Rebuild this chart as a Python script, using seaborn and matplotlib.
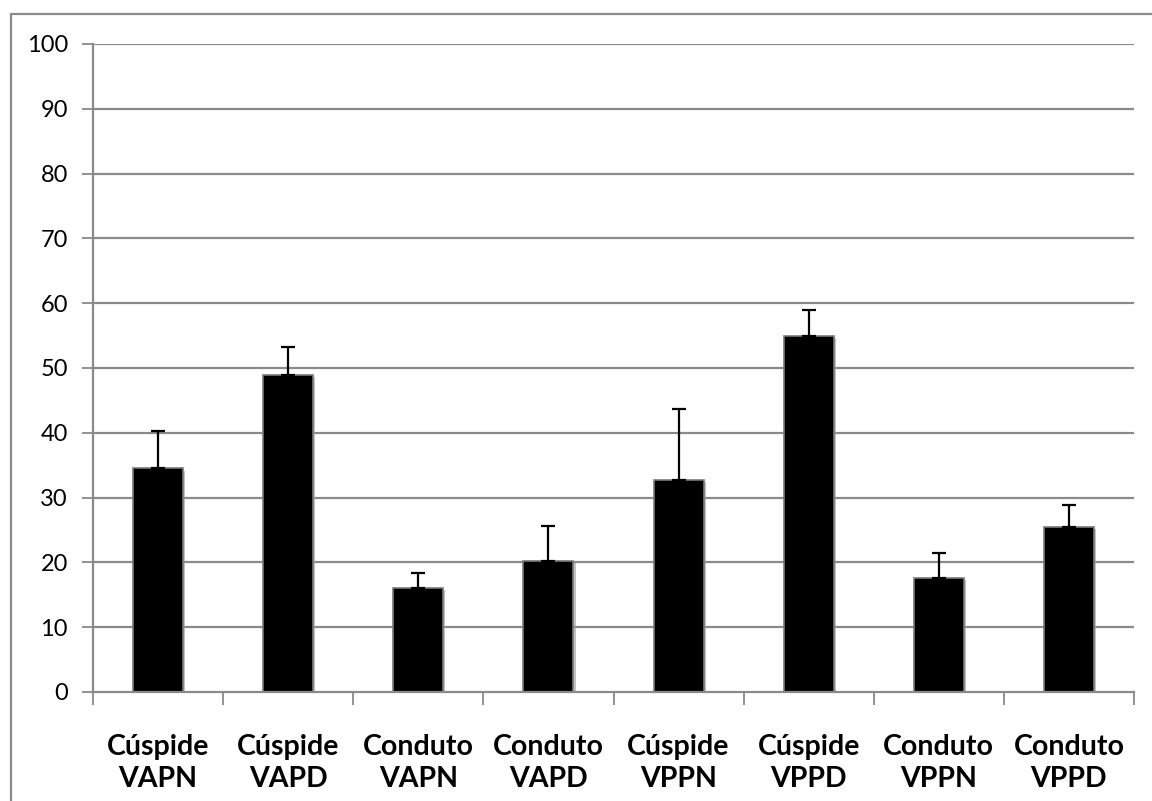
import matplotlib
matplotlib.use("Agg")
import matplotlib.pyplot as plt
import matplotlib.patheffects as pe
from matplotlib.patches import Rectangle
import numpy as np
import pandas as pd
import seaborn as sns

categories = ["Cúspide\nVAPN", "Cúspide\nVAPD", "Conduto\nVAPN", "Conduto\nVAPD",
              "Cúspide\nVPPN", "Cúspide\nVPPD", "Conduto\nVPPN", "Conduto\nVPPD"]
means = [34.5, 48.9, 16.0, 20.2, 32.7, 54.9, 17.6, 25.4]
errors = [5.8, 4.4, 2.3, 5.4, 10.9, 4.0, 3.8, 3.5]
yticks = [0, 10, 20, 30, 40, 50, 60, 70, 80, 90, 100]

sns.set_theme(style="white")
plt.rcParams['font.family'] = ['Lato', 'DejaVu Sans']

df = pd.DataFrame({"cat": categories, "val": means})

fig = plt.figure(figsize=(11.52, 8.01), dpi=100)
ax = fig.add_axes([93/1152, 1-692/801, (1134-93)/1152, (692-44)/801])

grid_c = "#8a8a8a"
for t in yticks[1:]:
    ax.axhline(t, color=grid_c, lw=1.6, zorder=0)

sns.barplot(data=df, x="cat", y="val", color="black", width=0.385,
            errorbar=None, ax=ax, zorder=2, edgecolor="#7a7a7a", linewidth=1.2,
            saturation=1)
for p in ax.patches:
    p.set_path_effects([pe.SimplePatchShadow(offset=(1.5, -1.5), shadow_rgbFace="#9a9a9a", alpha=0.6),
                        pe.Normal()])

xpos = np.arange(len(categories))
ax.errorbar(xpos, means, yerr=[np.zeros(len(errors)), errors], fmt="none",
            ecolor="black", elinewidth=1.6, capsize=5, capthick=1.6, zorder=3)

ax.set_ylim(0, 100)
ax.set_xlim(-0.5, len(categories) - 0.5)
ax.set_yticks(yticks)
ax.set_yticklabels([str(t) for t in yticks], fontsize=17, color="black")
ax.set_xlabel("")
ax.set_ylabel("")

for lab in ax.get_xticklabels():
    lab.set_fontweight("bold")
    lab.set_fontsize(20.5)
    lab.set_color("black")
    lab.set_linespacing(1.3)

# category separators as minor ticks
ax.set_xticks(np.arange(-0.5, len(categories), 1.0), minor=True)
ax.tick_params(axis="x", which="major", length=0, pad=30)
ax.tick_params(axis="x", which="minor", length=9, width=1.3, color=grid_c, direction="out")
ax.tick_params(axis="y", which="major", length=8, width=1.3, color=grid_c, direction="out", pad=10)
ax.tick_params(left=True, bottom=True)
ax.xaxis.set_tick_params(which="minor", bottom=True)

for s in ["top", "right"]:
    ax.spines[s].set_visible(False)
for s in ["left", "bottom"]:
    ax.spines[s].set_color(grid_c)
    ax.spines[s].set_linewidth(1.6)

# outer chart-area border (cropped at right and bottom)
fig.add_artist(Rectangle((11/1152, -0.1), 1.2, 1 - 14/801 + 0.1, transform=fig.transFigure,
                         fill=False, edgecolor="#8a8a8a", lw=1.6, clip_on=False))

fig.savefig("out.png", dpi=100)
